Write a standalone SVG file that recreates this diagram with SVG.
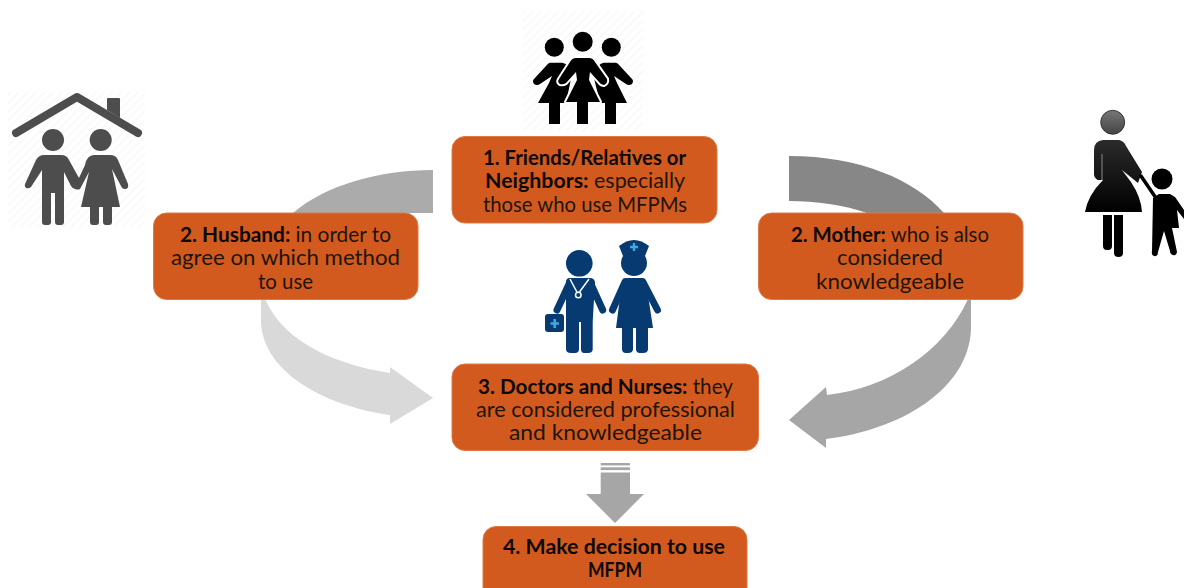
<svg xmlns="http://www.w3.org/2000/svg" width="1184" height="588" viewBox="0 0 1184 588">
<style>
.box{fill:#d25a1f;stroke:#dd7a45;stroke-width:1}
text{font-family:"Lato","Liberation Sans",sans-serif;font-size:21px;fill:#1f1408}
.b{font-weight:700;fill:#0d0804}
.dg{fill:#4d4d4d;stroke:none}
.dgl{stroke:#4d4d4d;fill:none;stroke-linecap:round;stroke-linejoin:round}
.k{fill:#000}
.kl{stroke:#000;fill:none;stroke-linecap:round;stroke-linejoin:round}
.n{fill:#063a70}
.nl{stroke:#063a70;fill:none;stroke-linecap:round;stroke-linejoin:round}
</style>
<defs>
<pattern id="hatch" width="6" height="6" patternUnits="userSpaceOnUse" patternTransform="rotate(-45)">
<rect width="6" height="6" fill="#fff"/><rect width="6" height="1.500" fill="#f8f8f8"/>
</pattern>
<linearGradient id="head" x1="0" y1="0" x2="0" y2="1"><stop offset="0" stop-color="#777"/><stop offset="1" stop-color="#444"/></linearGradient>
<linearGradient id="torso" x1="0" y1="0" x2="0" y2="1"><stop offset="0" stop-color="#2b2b2b"/><stop offset="1" stop-color="#000"/></linearGradient>
<path id="center-woman" d="M576 58H589Q593 58 595 62L607 79Q608 83 604 85Q601 85 599 82L590 72L589 80L600 102H588V124H577V102H566L577 80L576 72L566 83Q563 85 560 84Q557 82 559 79L570 62Q572 58 576 58Z"/>
</defs>

<g id="connectors">
<path fill="#ababab" d="M433 170C380 170 325 185 293 213L433 213Z"/>
<path fill="#d9d9d9" d="M261 299L261 323C264 375 330 407 390 415L390 424L433 398L390 367L390 373C340 365 285 345 265 299Z"/>
<path fill="#878787" d="M789 156C860 156 915 180 944 213L867 213C845 205 815 201 789 201Z"/>
<path fill="#a6a6a6" d="M971 299L971 330C968 390 900 430 826 439L826 448L789 420L826 387L827 395C890 388 945 350 968 299Z"/>
<g fill="#a6a6a6">
<rect x="600.700" y="463" width="29.300" height="2.400"/>
<rect x="600.700" y="467.300" width="29.300" height="2.800"/>
<path d="M600.700 472.500H630V494H644L615 523L586 494H600.700Z"/>
</g>
</g>

<g id="icon-couple">
<rect x="8" y="92" width="137" height="135" fill="url(#hatch)"/>
<path class="dgl" stroke-width="8" d="M16 133L77 97L138 133"/>
<path class="dg" d="M107 100V99Q107 98 108 98H119Q120 98 120 99V118L107 110Z"/>
<circle class="dg" cx="53" cy="140" r="11"/>
<circle class="dg" cx="100.700" cy="140" r="11"/>
<path class="dg" d="M44 155H61Q67 155 69 160L79 178L85 165Q87 155 94 155H110Q116 155 118 160L128 184Q129 189 125 189Q122 189 121 186L112 169L120 207H112V222Q112 225 109 225H106Q103 225 103 222V207H99V222Q99 225 96 225H93Q90 225 90 222V207H81L89 172L80 189Q78 190 75 189Q72 188 71 186L64 172V222Q64 225 61 225H58Q55 225 55 222V193H51V222Q51 225 48 225H45Q42 225 42 222V170L31 187Q29 189 26 188Q24 186 25 184L36 160Q39 155 44 155Z"/>
</g>

<g id="icon-friends">
<rect x="523" y="11" width="120" height="120" fill="url(#hatch)"/>
<circle class="k" cx="554.300" cy="47.300" r="9.500"/>
<circle class="k" cx="611.300" cy="47.300" r="9.500"/>
<path class="k" d="M550 62.700H562Q566 63 568 67L572 74L566 103H560V124H549V103H538L549 83L552 76L540 84Q537 86 534 84Q532 81 534 79L546 66Q548 63 550 62.700Z"/>
<path class="k" d="M604 62.700H616Q618 63 620 66L632 79Q634 81 632 84Q629 86 626 84L614 76L617 83L627 103H616V124H605V103H600L593 74L598 67Q600 63 604 62.700Z"/>
<use href="#center-woman" fill="#fff" stroke="#fff" stroke-width="4" stroke-linejoin="round"/>
<circle class="k" cx="582.700" cy="41.700" r="10"/>
<use href="#center-woman" class="k"/>
</g>

<g id="icon-mother">
<circle cx="1112.700" cy="122.300" r="12" fill="url(#head)" stroke="#222" stroke-width="0.800"/>
<path fill="url(#torso)" d="M1103 140H1119Q1124 141 1126 146L1142 172L1138 183L1122 170L1131 182Q1141 197 1142 212H1085Q1088 195 1103 180H1098Q1094 178 1094 174V150Q1094 141 1103 140Z"/>
<path stroke="#666" stroke-width="1.500" fill="none" d="M1102 154V180"/>
<path class="k" d="M1103 215H1112V246Q1112 250 1108 250H1107Q1103 250 1103 246ZM1114 215H1123V253Q1123 257 1118.500 257Q1114 257 1114 253Z"/>
<path class="kl" stroke-width="3.500" d="M1141 176L1158 201"/>
<circle class="k" cx="1162" cy="179" r="10.500"/>
<path class="k" d="M1153 198L1159 194H1170L1175 197L1184 210V219L1177 210L1179 228H1172L1177 252Q1176 256 1173 255Q1170 254 1170 251L1164 231L1158 252Q1158 257 1154 256Q1151 255 1152 251Z"/>
</g>

<g id="icon-doctors">
<circle class="n" cx="579.300" cy="263.300" r="13.300"/>
<path class="n" d="M570 278H590Q594 278 595 282L592.700 322V349Q592.700 353 588 353H584Q581 353 581 349V322H579V349Q579 353 575 353H571Q566 353 566 349V282Q566 278 570 278Z"/>
<path class="nl" stroke-width="7" d="M570 282L557 310M590 282L602.700 310"/>
<path d="M570 279L578 294L589 279" fill="none" stroke="#fff" stroke-width="1.500"/>
<circle cx="578.300" cy="295" r="2.800" fill="#063a70" stroke="#fff" stroke-width="1.500"/>
<rect class="n" x="545" y="314" width="19" height="18" rx="3"/>
<path d="M554.700 319V328M550.500 323.500H559" stroke="#3fa9e6" stroke-width="2.600"/>
<circle class="n" cx="634" cy="263" r="13"/>
<path class="n" d="M619 246Q634 234 649 246L645 256H623Z"/>
<path d="M634 243V251M630 247H638" stroke="#3fa9e6" stroke-width="2.400"/>
<path class="n" d="M626 278H642Q645 278 646 282L653 328H648V349Q648 353 643 353H640Q636 353 636 349V328H633V349Q633 353 628 353H626Q622 353 622 349V328H616L622 282Q623 278 626 278Z"/>
<path class="nl" stroke-width="7" d="M625 282L612.500 310M643 282L657.500 310"/>
</g>

<g id="node-1">
<rect class="box" x="452" y="136.500" width="265" height="86.500" rx="13"/>
<text x="483" y="165" textLength="203" lengthAdjust="spacingAndGlyphs" class="b">1. Friends/Relatives or</text>
<text x="485" y="188.300" textLength="200" lengthAdjust="spacingAndGlyphs"><tspan class="b">Neighbors:</tspan> especially</text>
<text x="483" y="211.500" textLength="204" lengthAdjust="spacingAndGlyphs">those who use MFPMs</text>
</g>

<g id="node-2-husband">
<rect class="box" x="153.500" y="213" width="264.500" height="86.500" rx="13"/>
<text x="180" y="242" textLength="211" lengthAdjust="spacingAndGlyphs"><tspan class="b">2. Husband:</tspan> in order to</text>
<text x="171" y="265.300" textLength="229" lengthAdjust="spacingAndGlyphs">agree on which method</text>
<text x="258" y="288.500" textLength="55" lengthAdjust="spacingAndGlyphs">to use</text>
</g>

<g id="node-2-mother">
<rect class="box" x="758.500" y="213" width="264.500" height="86.500" rx="13"/>
<text x="791" y="242" textLength="198" lengthAdjust="spacingAndGlyphs"><tspan class="b">2. Mother:</tspan> who is also</text>
<text x="837" y="265.300" textLength="106" lengthAdjust="spacingAndGlyphs">considered</text>
<text x="816" y="288.500" textLength="148" lengthAdjust="spacingAndGlyphs">knowledgeable</text>
</g>

<g id="node-3">
<rect class="box" x="452" y="364" width="306.500" height="86.500" rx="13"/>
<text x="478" y="393.500" textLength="255" lengthAdjust="spacingAndGlyphs"><tspan class="b">3. Doctors and Nurses:</tspan> they</text>
<text x="476" y="416.500" textLength="259" lengthAdjust="spacingAndGlyphs">are considered professional</text>
<text x="509" y="439.500" textLength="193" lengthAdjust="spacingAndGlyphs">and knowledgeable</text>
</g>

<g id="node-4">
<rect class="box" x="483" y="526.500" width="264" height="86.500" rx="13"/>
<text x="503" y="553.500" textLength="222" lengthAdjust="spacingAndGlyphs" class="b">4. Make decision to use</text>
<text x="588" y="577" textLength="54" lengthAdjust="spacingAndGlyphs" class="b">MFPM</text>
</g>
</svg>
